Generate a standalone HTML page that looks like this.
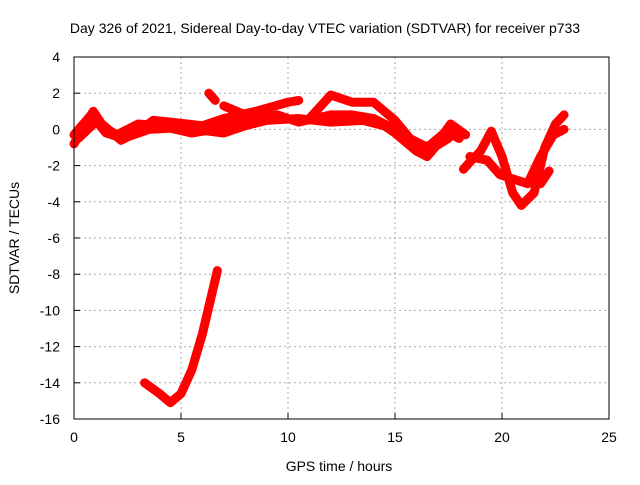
<!DOCTYPE html>
<html><head><meta charset="utf-8"><style>
body{margin:0;background:#fff}
svg{font-family:"Liberation Sans",sans-serif;font-size:14px}
</style></head><body>
<svg width="640" height="480" id="c">
<text x="325" y="33" text-anchor="middle">Day 326 of 2021, Sidereal Day-to-day VTEC variation (SDTVAR) for receiver p733</text>
<text x="339" y="471" text-anchor="middle">GPS time / hours</text>
<text transform="translate(19,238) rotate(-90)" text-anchor="middle">SDTVAR / TECUs</text>
<g id="grid"></g><g id="series"></g>
<rect x="74" y="57" width="535" height="362" fill="none" stroke="#000"/>
</svg>
<script>
const xTicks=[0,5,10,15,20,25];
const yTicks=[4,2,0,-2,-4,-6,-8,-10,-12,-14,-16];
const traceA_h=[0,0.5,0.9,1.3,2.2,3,3.7,4.5,6,7,8.5,10,10.5];
const traceA_v=[-0.8,0.2,1.0,0.3,-0.6,-0.1,0.5,0.4,0.2,0.6,1.0,1.5,1.6];
const traceB_h=[0,0.8,1.5,2.3,3.5,5,7,8,9,10.5,12,13.5,14.5,15,16,16.5,17,17.5,18];
const traceB_v=[-0.3,0.8,-0.2,-0.5,0,0.1,-0.2,0.2,0.5,0.6,0.4,0.5,0.2,-0.2,-1.2,-1.5,-0.8,-0.2,-0.5];
const traceB2_h=[0.2,1,2,3,4,5.5,7,8,9.5,10.5,12,13,14,15,16,16.8,17.5];
const traceB2_v=[-0.5,0.4,-0.3,0.3,0.2,-0.2,0.1,0.5,0.8,0.4,0.8,0.8,0.6,0,-0.8,-1.0,-0.5];
const traceC_h=[11,12,13,14,15,15.7,16.5,17.3,17.6,18.3];
const traceC_v=[0.6,1.9,1.5,1.5,0.5,-0.5,-1.0,-0.2,0.3,-0.3];
const traceD_h=[6.3,6.6];
const traceD_v=[2.0,1.6];
const traceD2_h=[7,8];
const traceD2_v=[1.3,0.8];
const traceE_h=[18.2,18.5,19,19.5,20,20.5,20.9,21.5,22,22.5,22.9];
const traceE_v=[-2.2,-1.8,-1.2,-0.1,-1.5,-3.5,-4.2,-3.5,-1.0,0.3,0.8];
const traceF_h=[18.5,19.3,19.9,21.2,21.8,22.4,22.9];
const traceF_v=[-1.5,-1.7,-2.5,-3.0,-1.5,-0.3,0];
const traceG_h=[21.8,22.2];
const traceG_v=[-3.0,-2.3];
const traceH_h=[3.3,4,4.5,5,5.5,6,6.7];
const traceH_v=[-14,-14.6,-15.1,-14.6,-13.3,-11.3,-7.8];
const X=h=>74+h*(535/25), Y=v=>57+(4-v)*(362/20);
const NS="http://www.w3.org/2000/svg";
const grid=document.getElementById('grid'), ser=document.getElementById('series');
function mk(t,a,p){const e=document.createElementNS(NS,t);for(const k in a)e.setAttribute(k,a[k]);p.appendChild(e);return e;}
xTicks.forEach(t=>{const x=X(t);
 const g=mk('line',{x1:x,x2:x,y1:57,y2:419,stroke:'#aaa','stroke-dasharray':'2,3'},grid);
 
 
 mk('line',{x1:x,x2:x,y1:419,y2:413,stroke:'#000'},grid);
 const l=mk('text',{x:x,y:442,'text-anchor':'middle'},grid);l.textContent=t;
 
 });
yTicks.forEach(t=>{const y=Y(t);
 const g=mk('line',{x1:74,x2:609,y1:y,y2:y,stroke:'#aaa','stroke-dasharray':'2,3'},grid);
 
 
 mk('line',{x1:74,x2:80,y1:y,y2:y,stroke:'#000'},grid);
 const l=mk('text',{x:60,y:y+5,'text-anchor':'end'},grid);l.textContent=t;
 
 });
const traces=[[traceA_h,traceA_v],[traceB_h,traceB_v],[traceB2_h,traceB2_v],[traceC_h,traceC_v],[traceD_h,traceD_v],[traceD2_h,traceD2_v],[traceE_h,traceE_v],[traceF_h,traceF_v],[traceG_h,traceG_v],[traceH_h,traceH_v]];
traces.forEach(([h,v])=>{
 const pts=h.map((x,i)=>X(x)+','+Y(v[i])).join(' ');
 const p=mk('polyline',{points:pts,fill:'none',stroke:'#f00','stroke-width':9,'stroke-linejoin':'round','stroke-linecap':'round'},ser);
 
 
});
</script>
</body></html>
